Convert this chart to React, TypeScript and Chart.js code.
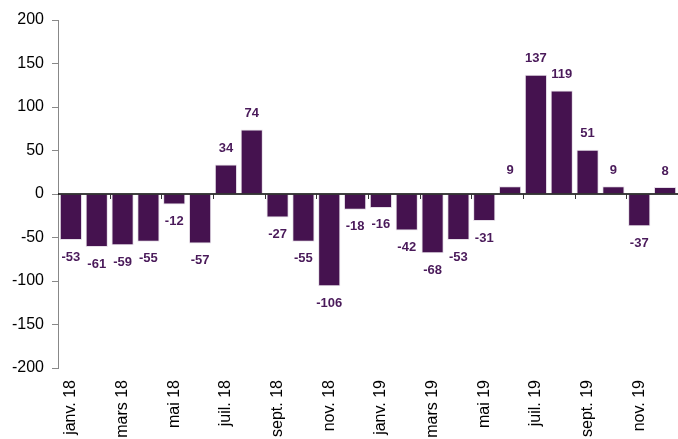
import React, { useEffect, useRef } from "react";
import { Chart, registerables } from "chart.js";

Chart.register(...registerables);

const categories: string[] = [
  "janv. 18", "févr. 18", "mars 18", "avr. 18", "mai 18", "juin 18",
  "juil. 18", "août 18", "sept. 18", "oct. 18", "nov. 18", "déc. 18",
  "janv. 19", "févr. 19", "mars 19", "avr. 19", "mai 19", "juin 19",
  "juil. 19", "août 19", "sept. 19", "oct. 19", "nov. 19", "déc. 19",
];

const values: number[] = [
  -53, -61, -59, -55, -12, -57, 34, 74, -27, -55, -106, -18,
  -16, -42, -68, -53, -31, 9, 137, 119, 51, 9, -37, 8,
];

const yMin = -200;
const yMax = 200;
const yStep = 50;

const BAR_COLOR = "#45124f";
const LABEL_COLOR = "#4a1a5a";
const FONT = "'Liberation Sans', Arial, sans-serif";

const overlayPlugin = {
  id: "overlay",
  afterDatasetsDraw(chart: any) {
    const ctx = chart.ctx;
    const xs = chart.scales.x;
    const ys = chart.scales.y;
    const y0 = ys.getPixelForValue(0);
    const area = chart.chartArea;
    ctx.save();
    // zero line
    ctx.strokeStyle = "#000";
    ctx.lineWidth = 1.5;
    ctx.beginPath();
    ctx.moveTo(area.left, y0);
    ctx.lineTo(area.right, y0);
    ctx.stroke();
    // tick marks between categories, every 2
    ctx.lineWidth = 1;
    ctx.strokeStyle = "#333";
    const n = categories.length;
    for (let i = 2; i <= n; i += 2) {
      let x: number;
      if (i < n) {
        x = (xs.getPixelForValue(i - 1) + xs.getPixelForValue(i)) / 2;
      } else {
        x = area.right - 0.5;
      }
      x = Math.round(x) + 0.5;
      ctx.beginPath();
      ctx.moveTo(x, y0);
      ctx.lineTo(x, y0 + 5);
      ctx.stroke();
    }
    // data labels
    const meta = chart.getDatasetMeta(0);
    ctx.fillStyle = LABEL_COLOR;
    ctx.font = "bold 13px " + FONT;
    ctx.textAlign = "center";
    ctx.textBaseline = "middle";
    meta.data.forEach((bar: any, i: number) => {
      const v = values[i];
      const y = v >= 0 ? bar.y - 16 : bar.y + 17;
      ctx.fillText(String(v), bar.x, y);
    });
    ctx.restore();
  },
};

export default function App() {
  const canvasRef = useRef<HTMLCanvasElement | null>(null);

  useEffect(() => {
    document.body.style.margin = "0";
    const canvas = canvasRef.current;
    if (!canvas) return;
    const chart = new Chart(canvas, {
      type: "bar",
      data: {
        labels: categories,
        datasets: [
          {
            data: values,
            backgroundColor: BAR_COLOR,
            borderColor: "#e6dfe8",
            borderWidth: 1,
            categoryPercentage: 1,
            barPercentage: 0.86,
          },
        ],
      },
      options: {
        animation: false,
        responsive: true,
        maintainAspectRatio: false,
        layout: { padding: { top: 20, right: 0, left: 0, bottom: 0 } },
        plugins: {
          legend: { display: false },
          tooltip: { enabled: false },
        },
        scales: {
          x: {
            position: "bottom",
            grid: { display: false, drawTicks: false },
            border: { display: false },
            ticks: {
              autoSkip: false,
              minRotation: 90,
              maxRotation: 90,
              padding: 12,
              color: "#000",
              font: { family: FONT, size: 16 },
              callback: (_v: any, i: number) => (i % 2 === 0 ? categories[i] : ""),
            },
            afterFit: (scale: any) => {
              scale.height = 71;
              scale.paddingRight = 0;
              scale.paddingLeft = 0;
            },
          },
          y: {
            min: yMin,
            max: yMax,
            grid: {
              drawOnChartArea: false,
              drawTicks: true,
              tickLength: 6,
              color: "#888",
            },
            border: { display: true, color: "#888", width: 1 },
            ticks: {
              stepSize: yStep,
              padding: 8,
              color: "#000",
              font: { family: FONT, size: 16 },
            },
            afterFit: (scale: any) => {
              scale.width = 58;
              scale.paddingTop = 0;
              scale.paddingBottom = 0;
            },
          },
        },
      },
      plugins: [overlayPlugin],
    });
    return () => chart.destroy();
  }, []);

  return (
    <div style={{ position: "fixed", left: 0, top: 0, width: 678, height: 439 }}>
      <canvas ref={canvasRef} />
    </div>
  );
}
